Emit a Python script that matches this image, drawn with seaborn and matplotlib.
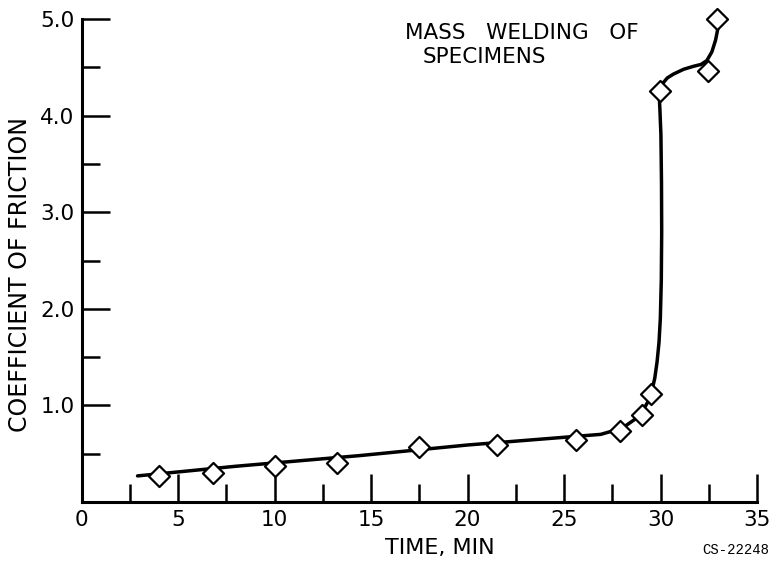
import matplotlib
matplotlib.use("Agg")
import matplotlib.pyplot as plt
import numpy as np
import pandas as pd
import seaborn as sns

# Measured friction coefficients (open diamonds)
time_min = [4.0, 6.8, 10.0, 13.25, 17.5, 21.5, 25.6, 27.9, 29.05, 29.5, 29.95, 32.45, 32.95]
friction = [0.27, 0.30, 0.37, 0.40, 0.57, 0.59, 0.64, 0.74, 0.90, 1.12, 4.25, 4.46, 5.00]

# Faired curve drawn through the measurements
curve_time = [2.9, 8.0, 14.4, 20.0, 26.9, 27.6, 28.2, 28.7, 29.1, 29.35, 29.55, 29.7,
              29.82, 29.92, 29.99, 30.04, 30.06, 30.05, 30.02, 29.97, 29.94, 29.96,
              30.1, 30.35, 30.67, 31.2, 31.7, 32.1, 32.4, 32.66, 32.85, 33.0]
curve_cof = [0.27, 0.37, 0.48, 0.59, 0.70, 0.74, 0.79, 0.86, 0.95, 1.04, 1.15, 1.28,
             1.45, 1.65, 1.90, 2.30, 2.80, 3.30, 3.80, 4.05, 4.18, 4.26,
             4.33, 4.39, 4.43, 4.48, 4.51, 4.53, 4.57, 4.66, 4.78, 4.93]

x_major = [0, 5, 10, 15, 20, 25, 30, 35]
x_minor = [2.5, 7.5, 12.5, 17.5, 22.5, 27.5, 32.5]
y_major = [1.0, 2.0, 3.0, 4.0, 5.0]
y_minor = [0.5, 1.5, 2.5, 3.5, 4.5]

points = pd.DataFrame({"time": time_min, "cof": friction})
curve = pd.DataFrame({"time": curve_time, "cof": curve_cof})

sns.set_style("white")
plt.rcParams["font.family"] = ["DejaVu Sans"]
plt.rcParams["text.color"] = "black"
plt.rcParams["axes.labelcolor"] = "black"

fig = plt.figure(figsize=(7.72, 5.66), dpi=100)
ax = fig.add_axes([0.1057, 0.1131, 0.8749, 0.8533])

sns.lineplot(data=curve, x="time", y="cof", sort=False, estimator=None,
             color="black", linewidth=2.5, ax=ax, zorder=2)
sns.scatterplot(data=points, x="time", y="cof", marker="D", s=115,
                facecolor="white", edgecolor="black", linewidth=1.6,
                ax=ax, zorder=3, clip_on=False)

ax.set_xlim(0, 35)
ax.set_ylim(0, 5)
sns.despine(ax=ax)
for side in ("left", "bottom"):
    ax.spines[side].set_linewidth(2.2)
    ax.spines[side].set_color("black")

ax.set_xticks(x_major)
ax.set_xticks(x_minor, minor=True)
ax.set_xticklabels([str(v) for v in x_major])
ax.set_yticks(y_major)
ax.set_yticks(y_minor, minor=True)
ax.set_yticklabels([f"{v:.1f}" for v in y_major])

ax.tick_params(which="both", bottom=True, left=True, top=False, right=False)
ax.tick_params(which="major", direction="in", length=20, width=1.8,
               color="black", labelsize=15.5, labelcolor="black")
ax.tick_params(which="minor", direction="in", length=13, width=1.8, color="black")
ax.tick_params(axis="x", which="major", pad=6)
ax.tick_params(axis="y", which="major", pad=5)

ax.set_xlabel("TIME, MIN", fontsize=16, color="black")
ax.xaxis.set_label_coords(0.53, -0.075)
ax.set_ylabel("COEFFICIENT OF FRICTION", fontsize=17, color="black")
ax.yaxis.set_label_coords(-0.073, 0.47)

ax.text(16.77, 4.86, "MASS   WELDING   OF", fontsize=15.5, ha="left", va="center",
        color="black")
ax.text(17.66, 4.61, "SPECIMENS", fontsize=15.5, ha="left", va="center",
        color="black")

fig.text(0.996, 1 - 550 / 566, "CS-22248", family="Liberation Mono",
         fontsize=10, ha="right", va="center", color="black")

fig.savefig("out.png", dpi=100, facecolor="white")
